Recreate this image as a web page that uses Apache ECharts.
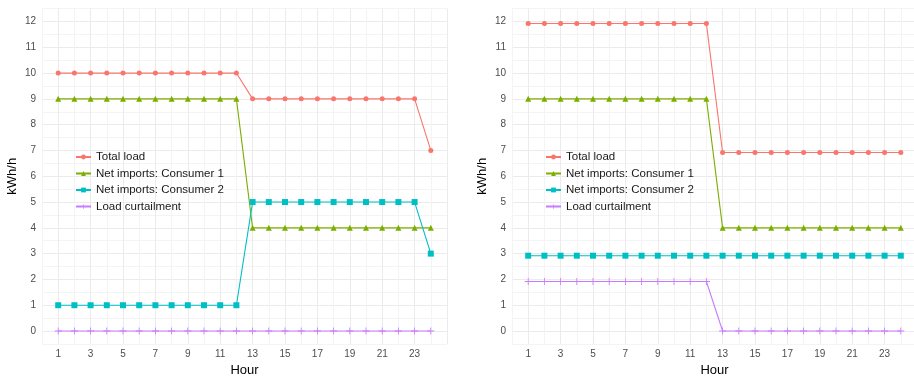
<!DOCTYPE html>
<html>
<head>
<meta charset="utf-8">
<script src="https://cdn.jsdelivr.net/npm/echarts@6/dist/echarts.min.js"></script>
<style>
  html, body { margin: 0; padding: 0; background: #fff; }
  #chart { width: 914px; height: 377px; }
</style>
</head>
<body>
<div id="chart"></div>
<script>
// hours 1..24
var hours = [];
for (var h = 1; h <= 24; h++) hours.push(h);

var seriesNames = ['Total load', 'Net imports: Consumer 1', 'Net imports: Consumer 2', 'Load curtailment'];
var colors = ['#F8766D', '#7CAE00', '#00BFC4', '#C77CFF'];
var symbols = ['circle', 'triangle', 'rect', 'path://M-1,-0.12L1,-0.12L1,0.12L-1,0.12Z M-0.12,-1L0.12,-1L0.12,1L-0.12,1Z'];

// left panel
var leftTotal = [10,10,10,10,10,10,10,10,10,10,10,10, 9,9,9,9,9,9,9,9,9,9,9, 7];
var leftCons1 = [9,9,9,9,9,9,9,9,9,9,9,9, 4,4,4,4,4,4,4,4,4,4,4,4];
var leftCons2 = [1,1,1,1,1,1,1,1,1,1,1,1, 5,5,5,5,5,5,5,5,5,5,5, 3];
var leftCurt  = [0,0,0,0,0,0,0,0,0,0,0,0, 0,0,0,0,0,0,0,0,0,0,0,0];

// right panel
var rightTotal = [11.92,11.92,11.92,11.92,11.92,11.92,11.92,11.92,11.92,11.92,11.92,11.92, 6.92,6.92,6.92,6.92,6.92,6.92,6.92,6.92,6.92,6.92,6.92,6.92];
var rightCons1 = [9,9,9,9,9,9,9,9,9,9,9,9, 4,4,4,4,4,4,4,4,4,4,4,4];
var rightCons2 = [2.92,2.92,2.92,2.92,2.92,2.92,2.92,2.92,2.92,2.92,2.92,2.92, 2.92,2.92,2.92,2.92,2.92,2.92,2.92,2.92,2.92,2.92,2.92,2.92];
var rightCurt  = [1.92,1.92,1.92,1.92,1.92,1.92,1.92,1.92,1.92,1.92,1.92,1.92, 0,0,0,0,0,0,0,0,0,0,0,0];

var gridColors = ['#F4F4F4', '#EBEBEB'];

function pairs(vals) {
    return vals.map(function (v, i) { return [hours[i], v]; });
}

function makeX(idx) {
    return {
        type: 'value', gridIndex: idx, min: 0, max: 25, interval: 1,
        name: 'Hour', nameLocation: 'middle', nameGap: 19,
        nameTextStyle: { fontSize: 13, color: '#000', fontFamily: 'Liberation Sans' },
        axisLine: { show: false }, axisTick: { show: false },
        axisLabel: {
            fontSize: 10, color: '#4D4D4D', margin: 5, fontFamily: 'Liberation Sans',
            formatter: function (v) { return (v % 2 === 1 && v <= 23) ? String(v) : ''; }
        },
        splitLine: { show: true, lineStyle: { color: gridColors, width: 1 } }
    };
}

function makeY(idx) {
    return {
        type: 'value', gridIndex: idx, min: -0.5, max: 12.5, interval: 0.5,
        name: 'kWh/h', nameLocation: 'middle', nameGap: 23, nameRotate: 90,
        nameTextStyle: { fontSize: 13, color: '#000', fontFamily: 'Liberation Sans' },
        axisLine: { show: false }, axisTick: { show: false },
        axisLabel: {
            fontSize: 10, color: '#4D4D4D', margin: 6, fontFamily: 'Liberation Sans',
            formatter: function (v) { return Number.isInteger(v) ? String(v) : ''; }
        },
        splitLine: { show: true, lineStyle: { color: gridColors, width: 1 } }
    };
}

function makeSeries(idx, lists) {
    return lists.map(function (vals, k) {
        return {
            name: seriesNames[k], type: 'line', xAxisIndex: idx, yAxisIndex: idx,
            data: pairs(vals), symbol: symbols[k],
            symbolSize: k === 3 ? 7 : (k === 0 ? 5 : 6),
            showSymbol: true, animation: false,
            itemStyle: { color: colors[k] },
            lineStyle: { color: colors[k], width: 1.1 }
        };
    });
}

function makeLegend(left) {
    return {
        orient: 'vertical', left: left, top: 146,
        itemWidth: 15, itemHeight: 6, itemGap: 4.5,
        data: seriesNames,
        textStyle: { fontSize: 11.5, color: '#1a1a1a', fontFamily: 'Liberation Sans' }
    };
}

var chart = echarts.init(document.getElementById('chart'));
var option = {
    animation: false,
    grid: [
        { left: 42, width: 405, top: 8.6, height: 335.3, outerBoundsMode: 'none', containLabel: false },
        { left: 512, width: 405, top: 8.6, height: 335.3, outerBoundsMode: 'none', containLabel: false }
    ],
    xAxis: [makeX(0), makeX(1)],
    yAxis: [makeY(0), makeY(1)],
    legend: [makeLegend(70), makeLegend(540)],
    series: makeSeries(0, [leftTotal, leftCons1, leftCons2, leftCurt])
        .concat(makeSeries(1, [rightTotal, rightCons1, rightCons2, rightCurt]))
};
chart.setOption(option);
</script>
</body>
</html>
